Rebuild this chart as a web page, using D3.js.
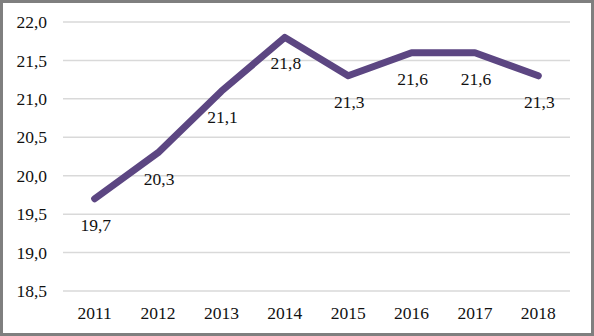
<!DOCTYPE html>
<html><head><meta charset="utf-8">
<script src="https://cdn.jsdelivr.net/npm/d3@7"></script>
<style>html,body{margin:0;padding:0;background:#fff;}svg{display:block;}</style>
</head><body>
<svg id="chart" width="594" height="336"></svg>
<script>
const years = ["2011","2012","2013","2014","2015","2016","2017","2018"];
const values = [19.7, 20.3, 21.1, 21.8, 21.3, 21.6, 21.6, 21.3];
const yTicks = [18.5, 19.0, 19.5, 20.0, 20.5, 21.0, 21.5, 22.0];

const W = 594, H = 336;
const svg = d3.select("#chart");
const fmt = v => d3.format(".1f")(v).replace(".", ",");
const FONT = '"Liberation Serif"';

svg.append("rect").attr("x",0).attr("y",0).attr("width",W).attr("height",H).attr("fill","#fff");

const x = d3.scaleBand().domain(years).range([63, 570]);
const y = d3.scaleLinear().domain([18.5, 22.0]).range([291, 22]);

// gridlines
svg.append("g").selectAll("line").data(yTicks).join("line")
  .attr("x1", 63).attr("x2", 570)
  .attr("y1", d => y(d)).attr("y2", d => y(d))
  .attr("stroke", "#d9d9d9").attr("stroke-width", 1.5);

// y axis labels
const yAxis = d3.axisLeft(y).tickValues(yTicks).tickFormat(fmt).tickSize(0).tickPadding(0);
const gy = svg.append("g").attr("transform","translate(47,0)").call(yAxis);
gy.select(".domain").remove();
gy.attr("font-family", null);
gy.selectAll("text").style("font-family", FONT).style("font-size", "17.5px").attr("fill", "#111");

// x axis labels
const xAxis = d3.axisBottom(x).tickSize(0).tickPadding(0);
const gx = svg.append("g").attr("transform","translate(0,307)").call(xAxis);
gx.select(".domain").remove();
gx.attr("font-family", null);
gx.selectAll("text").style("font-family", FONT).style("font-size", "17.5px").attr("fill", "#111").attr("dy","0.71em");

// line
const line = d3.line().x((d,i) => x(years[i]) + x.bandwidth()/2).y(d => y(d));
svg.append("path").datum(values).attr("d", line)
  .attr("fill","none").attr("stroke","#5c4682").attr("stroke-width",7)
  .attr("stroke-linejoin","round").attr("stroke-linecap","round");

// data labels
svg.append("g").selectAll("text").data(values).join("text")
  .attr("x", (d,i) => x(years[i]) + x.bandwidth()/2 + 1)
  .attr("y", d => y(d) + 26)
  .attr("dy", "0.35em")
  .attr("text-anchor","middle")
  .style("font-family", FONT).style("font-size","17.5px").attr("fill","#111")
  .text(fmt);

// border
svg.append("rect").attr("x",1.5).attr("y",1.5).attr("width",W-3).attr("height",H-3)
  .attr("fill","none").attr("stroke","#7f7f7f").attr("stroke-width",3);
</script>
</body></html>
